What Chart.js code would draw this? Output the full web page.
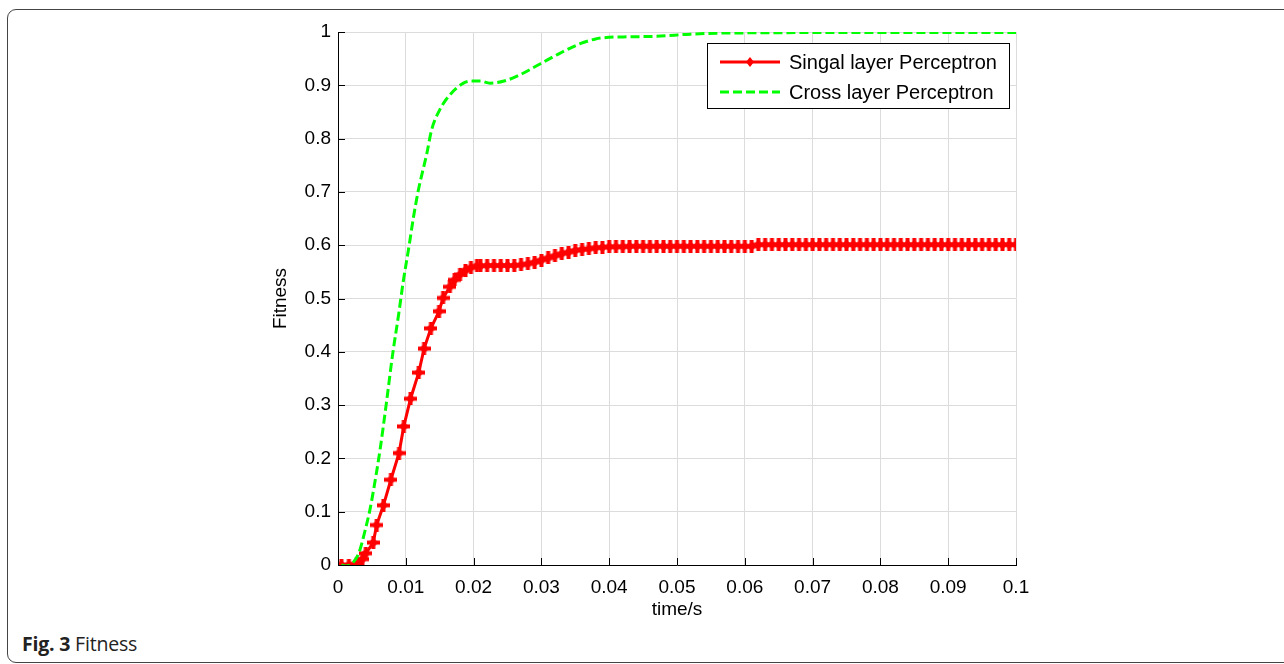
<!DOCTYPE html>
<html>
<head>
<meta charset="utf-8">
<script src="https://cdn.jsdelivr.net/npm/chart.js@4/dist/chart.umd.min.js"></script>
<style>
  html, body { margin: 0; padding: 0; background: #fff; width: 1284px; height: 664px; overflow: hidden; }
  #frame { position: absolute; left: 7px; top: 9px; width: 1300px; height: 652px; border: 1px solid #444; border-radius: 9px; }
  #caption { position: absolute; left: 22px; top: 630px; font-family: "Open Sans", sans-serif; font-size: 19.5px; color: #222; letter-spacing: -0.2px; }
  #caption b { font-weight: 700; }
  canvas { position: absolute; left: 0; top: 0; }
</style>
</head>
<body>
<div id="frame"></div>
<div id="caption"><b>Fig. 3</b> Fitness</div>
<canvas id="myChart" width="1284" height="664"></canvas>
<script>
// single layer perceptron (time in s, fitness)
var singleTime = [
  0.0005, 0.0016, 0.0028, 0.0036, 0.0041, 0.0052, 0.0057, 0.0067, 0.0078, 0.0090,
  0.0097, 0.0107, 0.0119, 0.0127, 0.0137, 0.0149, 0.0155, 0.0165, 0.0172, 0.0180,
  0.0188, 0.0196, 0.0205,
  0.021, 0.022, 0.023, 0.024, 0.025, 0.026, 0.027, 0.028, 0.029, 0.030,
  0.031, 0.032, 0.033, 0.034, 0.035, 0.036, 0.037, 0.038, 0.039, 0.040,
  0.041, 0.042, 0.043, 0.044, 0.045, 0.046, 0.047, 0.048, 0.049, 0.050,
  0.051, 0.052, 0.053, 0.054, 0.055, 0.056, 0.057, 0.058, 0.059, 0.060,
  0.061, 0.062, 0.063, 0.064, 0.065, 0.066, 0.067, 0.068, 0.069, 0.070,
  0.071, 0.072, 0.073, 0.074, 0.075, 0.076, 0.077, 0.078, 0.079, 0.080,
  0.081, 0.082, 0.083, 0.084, 0.085, 0.086, 0.087, 0.088, 0.089, 0.090,
  0.091, 0.092, 0.093, 0.094, 0.095, 0.096, 0.097, 0.098, 0.099, 0.100
];
var singleFit = [
  0.000, 0.000, 0.002, 0.011, 0.022, 0.042, 0.075, 0.112, 0.160, 0.210,
  0.260, 0.312, 0.361, 0.406, 0.444, 0.476, 0.501, 0.522, 0.535, 0.545,
  0.553, 0.558, 0.561,
  0.561, 0.562, 0.562, 0.562, 0.562, 0.562, 0.563, 0.565, 0.568, 0.572,
  0.576, 0.580, 0.584, 0.587, 0.590, 0.592, 0.593, 0.595, 0.596, 0.597,
  0.597, 0.597, 0.598, 0.598, 0.598, 0.598, 0.598, 0.598, 0.598, 0.598,
  0.598, 0.598, 0.598, 0.598, 0.598, 0.598, 0.598, 0.598, 0.598, 0.598,
  0.598, 0.601, 0.601, 0.601, 0.601, 0.601, 0.601, 0.601, 0.601, 0.601,
  0.601, 0.601, 0.601, 0.601, 0.601, 0.601, 0.601, 0.601, 0.601, 0.601,
  0.601, 0.601, 0.601, 0.601, 0.601, 0.601, 0.601, 0.601, 0.601, 0.601,
  0.601, 0.601, 0.601, 0.601, 0.601, 0.601, 0.601, 0.601, 0.601, 0.601
];
// cross layer perceptron
var crossTime = [
  0.0005, 0.0012, 0.0020, 0.0030, 0.0035, 0.0040, 0.0047, 0.0055, 0.0062, 0.0072,
  0.0080, 0.0090, 0.0096, 0.0105, 0.0111, 0.0118, 0.0131, 0.0138, 0.0150, 0.0165,
  0.0185, 0.0197, 0.0210, 0.0224, 0.0245, 0.0264, 0.0298, 0.0327, 0.0357, 0.0380,
  0.0400, 0.0430, 0.0470, 0.0520, 0.0570, 0.0800, 0.1000
];
var crossFit = [
  0.000, -0.002, 0.002, 0.020, 0.040, 0.065, 0.103, 0.160, 0.216, 0.310,
  0.390, 0.475, 0.530, 0.600, 0.650, 0.700, 0.772, 0.816, 0.854, 0.882,
  0.904, 0.908, 0.908, 0.904, 0.908, 0.917, 0.940, 0.960, 0.978, 0.987,
  0.990, 0.991, 0.992, 0.996, 0.998, 0.999, 0.999
];
var seriesNames = ["Singal layer Perceptron", "Cross layer Perceptron"];
var xTitle = "time/s";
var yTitle = "Fitness";

var FONT = '"Liberation Sans", Arial, sans-serif';

// thick plus marker like the matlab one
function makeMarker() {
  var c = document.createElement("canvas");
  c.width = 13; c.height = 13;
  var g = c.getContext("2d");
  g.fillStyle = "#ff0000";
  g.fillRect(4.5, 0, 4, 13);
  g.fillRect(0, 4.5, 13, 4);
  g.beginPath();
  g.moveTo(6.5, 1.5); g.lineTo(11.5, 6.5); g.lineTo(6.5, 11.5); g.lineTo(1.5, 6.5);
  g.closePath(); g.fill();
  return c;
}
var marker = makeMarker();

function toXY(xs, ys) {
  return xs.map(function (x, i) { return { x: x, y: ys[i] }; });
}

var frameLayout = {
  id: "frameLayout",
  afterDraw: function (chart) {
    var ctx = chart.ctx;
    var a = chart.chartArea;
    var xs = chart.scales.x, ys = chart.scales.y;
    ctx.save();
    // inward ticks
    ctx.strokeStyle = "#000";
    ctx.lineWidth = 1;
    ctx.beginPath();
    xs.ticks.forEach(function (t) {
      var px = Math.round(xs.getPixelForValue(t.value)) + 0.5;
      ctx.moveTo(px, a.bottom); ctx.lineTo(px, a.bottom - 7);
    });
    ys.ticks.forEach(function (t) {
      var py = Math.round(ys.getPixelForValue(t.value)) + 0.5;
      ctx.moveTo(a.left, py); ctx.lineTo(a.left + 7, py);
    });
    ctx.stroke();
    // axis titles
    ctx.fillStyle = "#000";
    ctx.font = "19px " + FONT;
    ctx.textAlign = "center";
    ctx.textBaseline = "middle";
    ctx.fillText(xTitle, (a.left + a.right) / 2, a.bottom + 45);
    ctx.translate(a.left - 57, (a.top + a.bottom) / 2);
    ctx.rotate(-Math.PI / 2);
    ctx.fillText(yTitle, 0, 0);
    ctx.restore();

    // legend box
    ctx.save();
    var bx = a.right - 309, by = a.top + 11, bw = 302, bh = 65;
    ctx.fillStyle = "#fff";
    ctx.fillRect(bx, by, bw, bh);
    ctx.strokeStyle = "#000";
    ctx.lineWidth = 1;
    ctx.strokeRect(bx + 0.5, by + 0.5, bw, bh);
    var ds = chart.data.datasets;
    var rows = [by + 19, by + 49];
    for (var i = 0; i < 2; i++) {
      ctx.strokeStyle = ds[i].borderColor;
      ctx.lineWidth = ds[i].borderWidth;
      ctx.setLineDash(ds[i].borderDash || []);
      ctx.beginPath();
      ctx.moveTo(bx + 13, rows[i]); ctx.lineTo(bx + 73, rows[i]);
      ctx.stroke();
      ctx.setLineDash([]);
      if (i === 0) {
        ctx.fillStyle = ds[i].borderColor;
        ctx.beginPath();
        ctx.moveTo(bx + 43, rows[i] - 5); ctx.lineTo(bx + 47, rows[i]);
        ctx.lineTo(bx + 43, rows[i] + 5); ctx.lineTo(bx + 39, rows[i]);
        ctx.closePath(); ctx.fill();
      }
      ctx.fillStyle = "#000";
      ctx.font = "20px " + FONT;
      ctx.textAlign = "left";
      ctx.textBaseline = "middle";
      ctx.fillText(seriesNames[i], bx + 82, rows[i] + 1);
    }
    ctx.restore();
  }
};

var ctx = document.getElementById("myChart").getContext("2d");
var myChart = new Chart(ctx, {
  type: "line",
  data: {
    datasets: [
      {
        label: seriesNames[0],
        data: toXY(singleTime, singleFit),
        borderColor: "#ff0000",
        backgroundColor: "#ff0000",
        borderWidth: 3,
        pointStyle: marker,
        pointRadius: 6,
        tension: 0,
        order: 2
      },
      {
        label: seriesNames[1],
        data: toXY(crossTime, crossFit),
        borderColor: "#00ff00",
        backgroundColor: "#00ff00",
        borderWidth: 3,
        borderDash: [9, 4],
        pointRadius: 0,
        cubicInterpolationMode: "monotone",
        order: 1
      }
    ]
  },
  options: {
    responsive: false,
    animation: false,
    layout: { padding: { left: 0, top: 32, right: 268, bottom: 0 } },
    plugins: { legend: { display: false }, tooltip: { enabled: false } },
    scales: {
      x: {
        type: "linear",
        min: 0, max: 0.1,
        afterFit: function (s) { s.height = 99; },
        ticks: {
          stepSize: 0.01,
          padding: 11,
          color: "#000",
          font: { family: FONT, size: 19 },
          maxRotation: 0,
          callback: function (v) { return String(Number(v.toFixed(3))); }
        },
        grid: { color: "#dcdcdc", drawTicks: false },
        border: { color: "#000", width: 1 }
      },
      y: {
        min: 0, max: 1,
        afterFit: function (s) { s.width = 338; },
        ticks: {
          stepSize: 0.1,
          padding: 7,
          color: "#000",
          font: { family: FONT, size: 19 },
          callback: function (v) { return String(Number(v.toFixed(2))); }
        },
        grid: { color: "#dcdcdc", drawTicks: false },
        border: { color: "#000", width: 1 }
      }
    }
  },
  plugins: [frameLayout]
});
</script>
</body>
</html>
